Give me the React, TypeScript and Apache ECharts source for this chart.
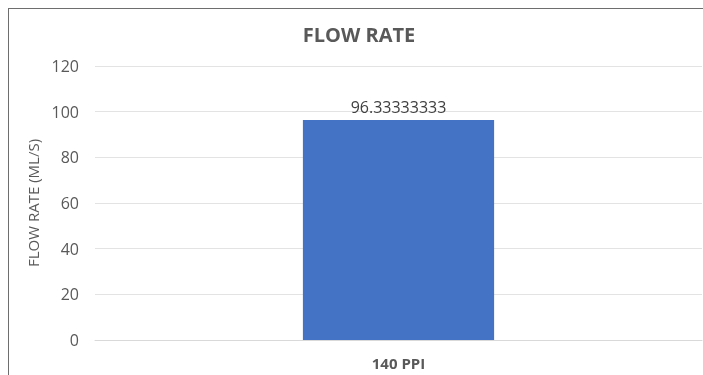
import React, { useEffect, useRef } from "react";
import * as echarts from "echarts";

const categories = ["140 PPI"];
const flowRates = [96.33333333];
const yTicks = { min: 0, max: 120, interval: 20 };

const FONT = "'Open Sans', 'Noto Sans', sans-serif";

export default function App() {
  const ref = useRef<HTMLDivElement>(null);
  useEffect(() => {
    if (!ref.current) return;
    const chart = echarts.init(ref.current, undefined, { renderer: "svg" });
    chart.setOption({
      animation: false,
      title: {
        text: "FLOW RATE",
        left: "center",
        top: 10,
        textStyle: { fontFamily: FONT, fontSize: 20, fontWeight: "bold", color: "#595959" },
      },
      grid: { left: 86, right: 7, top: 57, bottom: 39 },
      xAxis: {
        type: "category",
        data: categories,
        axisLine: { lineStyle: { color: "#d9d9d9" } },
        axisTick: { show: false },
        axisLabel: { fontFamily: FONT, fontSize: 15, fontWeight: "bold", color: "#595959", margin: 15 },
      },
      yAxis: {
        type: "value",
        min: yTicks.min,
        max: yTicks.max,
        interval: yTicks.interval,
        name: "FLOW RATE (ML/S)",
        nameLocation: "middle",
        nameGap: 53,
        nameTextStyle: { fontFamily: FONT, fontSize: 15, color: "#595959" },
        axisLine: { show: false },
        axisTick: { show: false },
        axisLabel: { fontFamily: FONT, fontSize: 16, color: "#595959", margin: 16 },
        splitLine: { lineStyle: { color: "#e3e3e3" } },
      },
      series: [
        {
          type: "bar",
          data: flowRates,
          barWidth: "31.5%",
          itemStyle: { color: "#4472c4" },
          label: {
            show: true,
            position: "top",
            distance: 5,
            formatter: (p: any) => String(p.value),
            fontFamily: FONT,
            fontSize: 16,
            color: "#404040",
          },
        },
      ],
    });
    return () => chart.dispose();
  }, []);
  return (
    <div
      style={{
        position: "fixed",
        top: 8,
        left: 8,
        borderTop: "1px solid #6e6e6e",
        borderLeft: "1px solid #6e6e6e",
        width: 695,
        height: 367,
        boxSizing: "border-box",
        overflow: "hidden",
      }}
    >
      <div ref={ref} style={{ width: 700, height: 370 }} />
    </div>
  );
}
